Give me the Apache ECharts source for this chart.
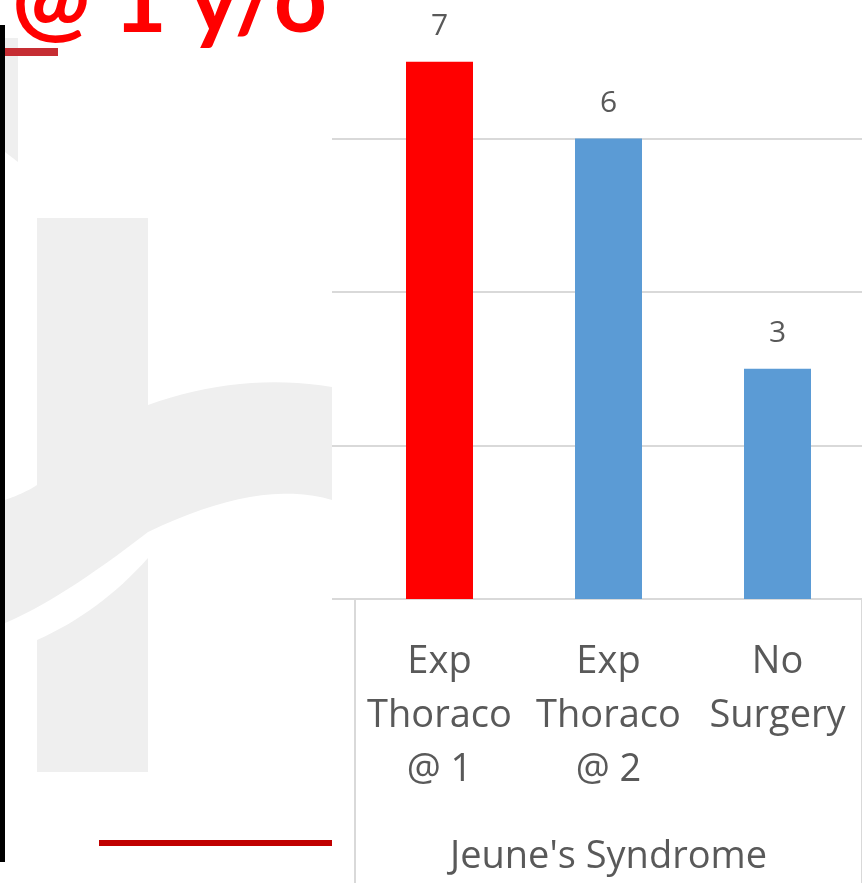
<!DOCTYPE html>
<html><head><meta charset="utf-8">
<script src="https://cdn.jsdelivr.net/npm/echarts@6/dist/echarts.min.js"></script>
<style>html,body{margin:0;padding:0;background:#fff;overflow:hidden}#c{width:862px;height:883px}</style>
</head><body><div id="c"></div>
<script>
// ---- data ----
const categories = ["Exp\nThoraco\n@ 1", "Exp\nThoraco\n@ 2", "No\nSurgery"];
const values = [7, 6, 3];
const barColors = ["#ff0000", "#5b9bd5", "#5b9bd5"];
const yTicks = [0, 2, 4, 6, 8];
const axisTitle = "Jeune's Syndrome";
const slideTitle = "@ 1 y/o";

const yMin = yTicks[0], yMax = yTicks[yTicks.length - 1], yStep = yTicks[1] - yTicks[0];
const gridColor = '#d9d9d9';
const textColor = '#595959';
const font = "'Open Sans', sans-serif";
const wm = '#efefef';

// decorative slide watermark outline helper: quadratic segments -> polygon points
function shapePts(segs) {
  const pts = [];
  let cur = segs[0];
  pts.push(cur);
  for (let k = 1; k < segs.length; k++) {
    const s = segs[k];
    if (s.length === 2) { pts.push(s); cur = s; }
    else {
      const c = [s[0], s[1]], e = [s[2], s[3]];
      for (let t = 1; t <= 16; t++) {
        const u = t / 16;
        pts.push([(1-u)*(1-u)*cur[0] + 2*(1-u)*u*c[0] + u*u*e[0], (1-u)*(1-u)*cur[1] + 2*(1-u)*u*c[1] + u*u*e[1]]);
      }
      cur = e;
    }
  }
  return pts;
}
const wmUpper = shapePts([[37,218],[148,218],[148,405],[240,372,332,387],[332,500],[260,478,148,532],[60,600,5,623],[5,500],[25,493,37,485]]);
const wmLower = shapePts([[148,558],[148,772],[37,772],[37,640],[100,612,148,558]]);

const chart = echarts.init(document.getElementById('c'), null, {renderer: 'canvas'});
const valueAxis = (gi) => ({
  type: 'value', gridIndex: gi, min: yMin, max: yMax, interval: yStep,
  axisLabel: {show: false}, axisLine: {show: false}, axisTick: {show: false},
  splitLine: {show: true, lineStyle: {color: gridColor, width: 2}}
});
chart.setOption({
  backgroundColor: '#ffffff',
  animation: false,
  grid: [
    {left: 355, width: 507, top: -15, bottom: 284, outerBoundsMode: 'none', containLabel: false},
    {left: 332, width: 23, top: -15, bottom: 284, outerBoundsMode: 'none', containLabel: false}
  ],
  xAxis: [
    {
      type: 'category', gridIndex: 0, data: categories,
      axisLine: {show: true, lineStyle: {color: gridColor, width: 2}},
      axisTick: {show: true, length: 284, interval: (i) => i === 0, lineStyle: {color: gridColor, width: 2}},
      axisLabel: {interval: 0, fontSize: 38, lineHeight: 54, color: textColor, fontFamily: font, margin: 36},
      name: axisTitle, nameLocation: 'middle', nameGap: 239,
      nameTextStyle: {fontSize: 38, color: textColor, fontFamily: font}
    },
    {type: 'value', gridIndex: 1, show: false, min: 0, max: 1}
  ],
  yAxis: [valueAxis(0), valueAxis(1)],
  series: [{
    type: 'bar', xAxisIndex: 0, yAxisIndex: 0, barWidth: 67,
    data: values.map((v, i) => ({value: v, itemStyle: {color: barColors[i]}})),
    label: {show: true, position: 'top', distance: 20, fontSize: 30, color: textColor, fontFamily: font}
  }],
  graphic: [
    {type: 'polygon', z: -10, shape: {points: wmUpper}, style: {fill: wm}},
    {type: 'polygon', z: -10, shape: {points: wmLower}, style: {fill: wm}},
    {type: 'polygon', z: -10, shape: {points: [[5, 38], [18, 38], [18, 162], [5, 152]]}, style: {fill: wm}},
    {type: 'rect', shape: {x: 0, y: 25, width: 5, height: 837}, style: {fill: '#000000'}},
    {type: 'rect', shape: {x: 5, y: 48, width: 53, height: 8}, style: {fill: '#c62d33'}},
    {type: 'rect', shape: {x: 99, y: 840, width: 233, height: 6}, style: {fill: '#c00000'}},
    {type: 'text', x: 12, y: 2, style: {text: slideTitle, font: "bold 93px Lato, sans-serif", fill: '#ff0000', verticalAlign: 'middle', align: 'left'}}
  ]
});
</script></body></html>
